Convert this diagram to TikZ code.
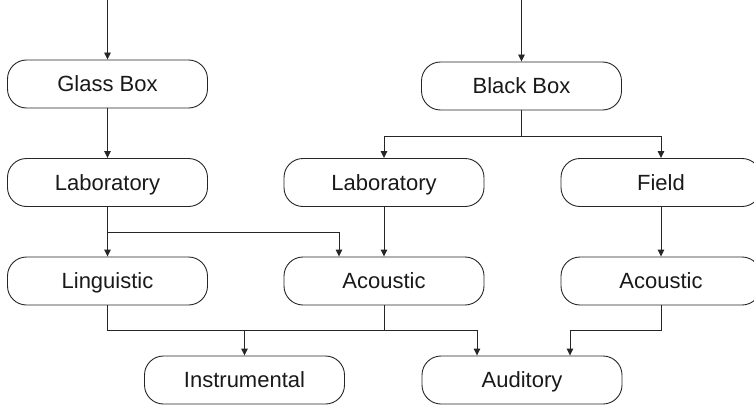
\documentclass[tikz,border=0pt]{standalone}
\usepackage{fontspec}
\setmainfont{Liberation Sans}
\usetikzlibrary{arrows.meta}
\tikzset{
  stage/.style={draw=black!85, line width=0.9pt, rounded corners=19pt,
    minimum width=200pt, minimum height=48pt, inner sep=0pt,
    text height=15.5pt, text depth=0pt,
    font=\fontsize{22}{26}\selectfont, text=black!90},
  link/.style={draw=black!85, line width=0.9pt},
  arr/.style={link, -{Triangle[length=7pt,width=6.5pt]}}
}
\begin{document}
\begin{tikzpicture}[x=1pt,y=-1pt]
\useasboundingbox (0,0) rectangle (754,404);

% stages
\node[stage] (gbox)  at (107.5,84)  {Glass Box};
\node[stage] (bbox)  at (521.5,86)  {Black Box};
\node[stage] (lab1)  at (107.5,182.5) {Laboratory};
\node[stage] (lab2)  at (384,182.5) {Laboratory};
\node[stage] (field) at (661,182.5) {Field};
\node[stage] (ling)  at (107.5,281) {Linguistic};
\node[stage] (ac2)   at (384,281)   {Acoustic};
\node[stage] (ac3)   at (661,281)   {Acoustic};
\node[stage] (instr) at (244.5,380) {Instrumental};
\node[stage] (aud)   at (522,380)   {Auditory};

% entry points
\coordinate (inG) at (107.5,0);
\coordinate (inB) at (521.5,0);
\draw[arr] (inG) -- (gbox.north);
\draw[arr] (inB) -- (bbox.north);

% glass box branch
\draw[arr] (gbox.south) -- (lab1.north);
\draw[arr] (lab1.south) -- (ling.north);
\coordinate (split) at (107.5,232);
\draw[arr] (split) -| ([xshift=-45pt]ac2.north);

% black box branch
\coordinate (fork) at (521.5,136);
\draw[link] (bbox.south) -- (fork);
\draw[arr] (fork) -| (lab2.north);
\draw[arr] (fork) -| (field.north);
\draw[arr] (lab2.south) -- (ac2.north);
\draw[arr] (field.south) -- (ac3.north);

% outcomes
\coordinate (merge) at (107.5,330.5);
\draw[link] (ling.south) -- (merge);
\draw[arr] (merge) -| ([xshift=-45pt]aud.north);
\coordinate (mid) at (244.5,330.5);
\draw[arr] (mid) -- (instr.north);
\draw[link] (ac2.south) -- (384,330.5);
\draw[arr] (ac3.south) -- ++(0,25) -| ([xshift=48pt]aud.north);
\end{tikzpicture}
\end{document}
